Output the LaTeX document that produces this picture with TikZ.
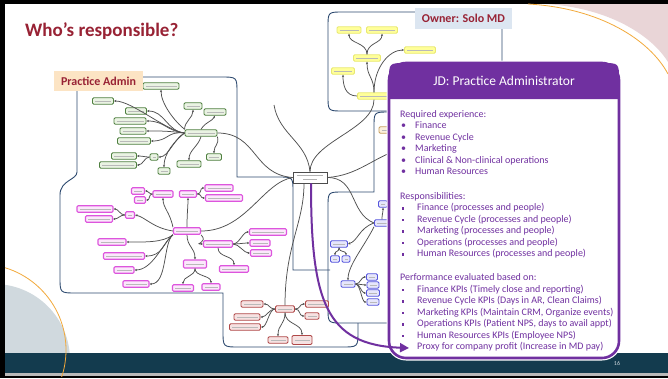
\documentclass[tikz,border=0pt]{standalone}
\usepackage{fontspec}
\setmainfont{Carlito}
\usetikzlibrary{arrows.meta}
\definecolor{titlered}{HTML}{982234}
\definecolor{peach}{HTML}{FCE4C4}
\definecolor{ownerbg}{HTML}{DCE6F1}
\definecolor{tealbar}{HTML}{133B4E}
\definecolor{jdpurple}{HTML}{7030A0}
\definecolor{pinkbg}{HTML}{E9D5D7}
\definecolor{orangeln}{HTML}{F2A93B}
\definecolor{greyc}{HTML}{D0D9DE}
\definecolor{navy}{HTML}{2E4A70}
\definecolor{linkgray}{HTML}{505050}
\definecolor{gbd}{HTML}{4F8040}\definecolor{gfl}{HTML}{EAF3E3}
\definecolor{pbd}{HTML}{DD55DD}\definecolor{pfl}{HTML}{FBE8FB}
\definecolor{rbd}{HTML}{B04848}\definecolor{rfl}{HTML}{F6E2E2}
\definecolor{bbd}{HTML}{5555DD}\definecolor{bfl}{HTML}{E6E6FB}
\definecolor{ybd}{HTML}{E8E870}\definecolor{yfl}{HTML}{FFFF99}
\definecolor{tbd}{HTML}{C8A060}\definecolor{tfl}{HTML}{FBF0DC}
\begin{document}
\begin{tikzpicture}[x=1pt,y=-1pt,
  mm/.style={draw, rounded corners=1.2pt, inner sep=0pt, minimum height=6.5, line width=0.9pt,
    path picture={\draw[gray!55, line width=0.6pt] ([xshift=2.5pt]path picture bounding box.west) -- ([xshift=-2.5pt]path picture bounding box.east);}},
  gn/.style={mm, draw=gbd, fill=gfl},
  pn/.style={mm, draw=pbd, fill=pfl, line width=1.1pt},
  rn/.style={mm, draw=rbd, fill=rfl},
  bn/.style={mm, draw=bbd, fill=bfl},
  yn/.style={mm, draw=ybd, fill=yfl},
  tn/.style={mm, draw=tbd, fill=tfl},
  cn/.style={draw=gray!60!black, fill=white, inner sep=0pt, minimum width=34, minimum height=11, line width=0.7pt,
    path picture={\draw[gray!60, line width=0.6pt] ([xshift=4pt,yshift=1.8pt]path picture bounding box.west) -- ([xshift=-4pt,yshift=1.8pt]path picture bounding box.east);
      \draw[gray!60, line width=0.6pt] ([xshift=10pt,yshift=-1.8pt]path picture bounding box.west) -- ([xshift=-10pt,yshift=-1.8pt]path picture bounding box.east);}},
  lk/.style={draw=linkgray, line width=0.75pt, -{Stealth[length=2.4pt,width=2.2pt]}},
  lkp/.style={draw=linkgray, line width=0.75pt},
  region/.style={draw=navy, line width=0.9pt},
  lbl/.style={inner sep=0pt, font=\fontsize{12}{14}\selectfont\bfseries, text=titlered},
  jd/.style={anchor=west, inner sep=0pt, font=\fontsize{10}{11}\selectfont, text=jdpurple, text height=6.5pt, text depth=2pt},
]
\useasboundingbox (0,0) rectangle (668,378);
% frame and background
\fill[black] (0,0) rectangle (668,378);
\fill[white] (5,4) rectangle (668,376);
\fill[pinkbg] (546,4) .. controls (610,8) and (652,36) .. (668,62) -- (668,4) -- cycle;
\draw[orangeln, line width=0.8pt] (528,4) .. controls (600,8) and (650,40) .. (668,74);
\begin{scope}
  \clip (5,4) rectangle (668,353);
  \fill[greyc] (-6,360) circle[radius=76pt];
\end{scope}
\fill[tealbar] (5,353) rectangle (668,373);
\fill[gray!55] (5,373) rectangle (668,376);
\begin{scope}
  \clip (5,4) rectangle (668,376);
  \draw[orangeln, line width=0.8pt] (-20,350) circle[radius=86pt];
\end{scope}

% title
\node[anchor=west, inner sep=0pt, font=\fontsize{19}{21}\selectfont\bfseries, text=titlered] (title) at (25,31) {Who’s responsible?};

% region outlines
\draw[region] (330,270) -- (293,270) -- (293,192) .. controls (293,177) .. (278,177) -- (237,177)
  -- (237,93) .. controls (237,77) .. (221,77) -- (93,77) .. controls (77,77) .. (77,93) -- (77,172)
  .. controls (77,180) and (60,180) .. (60,195) -- (60,277) .. controls (60,293) .. (76,293) -- (223,293)
  -- (223,331) .. controls (223,347) .. (239,347) -- (342,347) .. controls (358,347) .. (358,331) -- (358,323);
\draw[region] (400,323) -- (343,323) .. controls (328,323) .. (328,308) -- (328,207) .. controls (328,192) .. (343,192)
  -- (374,192) -- (374,127) .. controls (374,112) .. (389,112) -- (400,112);
\draw[region] (502,62) -- (502,27) .. controls (502,12) .. (487,12) -- (343,12) .. controls (328,12) .. (328,27)
  -- (328,96) .. controls (328,111) .. (343,111) -- (395,111);

% central node
\node[cn] (ctr) at (310,177.5) {};
\coordinate (tl) at (274,105);
\coordinate (tr) at (398,150);

% green cluster
\node[gn, minimum width=32] (g0) at (201,133) {};
\node[gn, minimum width=36] (g1) at (161,86) {};
\node[gn, minimum width=21] (g2) at (103,101) {};
\node[gn, minimum width=21] (g3) at (136,111) {};
\node[gn, minimum width=32] (g4) at (130,121) {};
\node[gn, minimum width=26] (g5) at (133,131) {};
\node[gn, minimum width=33] (g6) at (134,141) {};
\node[gn, minimum width=25] (g7) at (124,156) {};
\node[gn, minimum width=37] (g8) at (118,165) {};
\node[gn, minimum width=8] (g9) at (154,157) {};
\node[gn, minimum width=12] (g10) at (164,171) {};
\node[gn, minimum width=24] (g11) at (189,164) {};
\node[gn, minimum width=15] (g12) at (214,157) {};
\node[gn, minimum width=18] (g13) at (193,106) {};
\node[gn, minimum width=22] (g14) at (215,112) {};
\draw[lk] (g0.north west) .. controls +(-10,-8) and +(0,14) .. (g1.south);
\foreach \n in {g2,g3,g4,g5,g6}{\draw[lk] (g0.west) .. controls +(-18,-2) and +(18,0) .. (\n.east);}
\draw[lk] (g0.west) .. controls +(-10,5) and +(10,0) .. (g9.east);
\draw[lk] (g9.west) .. controls +(-5,0) and +(6,0) .. (g7.east);
\draw[lk] (g9.west) .. controls +(-5,0) and +(6,0) .. (g8.east);
\draw[lk] (g0.west) .. controls +(-10,8) and +(0,-14) .. (g10.north);
\draw[lk] (g0.south) .. controls +(-3,10) and +(0,-10) .. (g11.north);
\draw[lk] (g0.south east) .. controls +(2,8) and +(0,-8) .. (g12.north);
\draw[lk] (g0.north west) .. controls +(0,-8) and +(0,8) .. (g13.south);
\draw[lk] (g0.north) .. controls +(5,-8) and +(-3,6) .. (g14.south);
\draw[lkp] (g0.east) .. controls +(40,0) and +(-40,-3) .. (ctr.west);

% pink cluster
\node[pn, minimum width=27] (p0) at (187,231) {};
\node[pn, minimum width=9] (p1) at (130,215) {};
\node[pn, minimum width=36] (p2) at (95,209) {};
\node[pn, minimum width=27] (p3) at (99,219) {};
\node[pn, minimum width=20] (p4) at (163,194) {};
\node[pn, minimum width=13] (p5) at (138,191) {};
\node[pn, minimum width=11] (p6) at (140,200) {};
\node[pn, minimum width=17] (p7) at (188,194) {};
\node[pn, minimum width=28] (p8) at (219,188) {};
\node[pn, minimum width=37] (p9) at (224,198) {};
\node[pn, minimum width=28] (p10) at (112,242) {};
\node[pn, minimum width=41] (p11) at (124,256) {};
\node[pn, minimum width=20] (p12) at (124,270) {};
\node[pn, minimum width=26] (p13) at (136,284) {};
\node[pn, minimum width=23, minimum height=8] (p14) at (195,264) {};
\node[pn, minimum width=21] (p15) at (183,288) {};
\node[pn, minimum width=18] (p16) at (211,287) {};
\node[pn, minimum width=29] (p17) at (218,244) {};
\node[pn, minimum width=37] (p18) at (268,232) {};
\node[pn, minimum width=20] (p19) at (260,243) {};
\node[pn, minimum width=21] (p20) at (261,253) {};
\node[pn, minimum width=29] (p21) at (234,269) {};
\draw[lk] (p0.west) .. controls +(-20,-3) and +(10,2) .. (p1.east);
\draw[lk] (p1.west) .. controls +(-5,0) and +(5,0) .. (p2.east);
\draw[lk] (p1.west) .. controls +(-5,0) and +(5,0) .. (p3.east);
\draw[lk] (p0.north west) .. controls +(-3,-15) and +(0,10) .. (p4.south);
\draw[lk] (p4.west) .. controls +(-4,0) and +(4,0) .. (p5.east);
\draw[lk] (p4.west) .. controls +(-4,0) and +(4,0) .. (p6.east);
\draw[lk] (p0.north) .. controls +(0,-15) and +(0,10) .. (p7.south);
\draw[lk] (p7.east) .. controls +(5,0) and +(-5,0) .. (p8.west);
\draw[lk] (p7.east) .. controls +(5,0) and +(-5,0) .. (p9.west);
\foreach \n in {p10,p11,p12,p13}{\draw[lk] (p0.south west) .. controls +(-10,8) and +(18,0) .. (\n.east);}
\draw[lk] (p0.south) .. controls +(0,12) and +(0,-12) .. (p14.north);
\draw[lk] (p14.south) .. controls +(0,8) and +(0,-8) .. (p15.north);
\draw[lk] (p14.south) .. controls +(0,8) and +(0,-8) .. (p16.north);
\draw[lk] (p0.south east) .. controls +(8,8) and +(-10,0) .. (p17.west);
\foreach \n in {p18,p19,p20}{\draw[lk] (p17.east) .. controls +(6,0) and +(-6,0) .. (\n.west);}
\draw[lk] (p17.south) .. controls +(0,10) and +(0,-10) .. (p21.north);
\draw[lkp] (p0.east) .. controls +(45,0) and +(-30,5) .. (ctr.west);

% red cluster
\node[rn, minimum width=19] (r0) at (285,309) {};
\node[rn, minimum width=22] (r1) at (252,304) {};
\node[rn, minimum width=26] (r2) at (247,317) {};
\node[rn, minimum width=31] (r3) at (245,327) {};
\node[rn, minimum width=20] (r4) at (278,340) {};
\node[rn, minimum width=20, minimum height=9] (r5) at (302,340) {};
\node[rn, minimum width=23] (r6) at (317,304) {};
\node[rn, minimum width=14] (r7) at (312,316) {};
\foreach \n in {r1,r2,r3}{\draw[lk] (r0.west) .. controls +(-6,0) and +(6,0) .. (\n.east);}
\foreach \n in {r4,r5}{\draw[lk] (r0.south) .. controls +(0,12) and +(0,-12) .. (\n.north);}
\foreach \n in {r6,r7}{\draw[lk] (r0.east) .. controls +(6,0) and +(-6,0) .. (\n.west);}
\draw[lkp] (r0.north) .. controls +(0,-60) and +(0,40) .. ([xshift=-6pt]ctr.south);

% blue cluster
\node[bn, minimum width=15] (b0) at (382,223) {};
\node[bn, minimum width=9] (b1) at (383,204) {};
\node[bn, minimum width=17] (b2) at (339,244) {};
\node[bn, minimum width=9] (b3) at (335,259) {};
\node[bn, minimum width=8] (b4) at (346,259) {};
\node[bn, minimum width=14] (b5) at (348,284) {};
\node[bn, minimum width=11] (b6) at (372,277) {};
\node[bn, minimum width=12] (b7) at (373,285) {};
\node[bn, minimum width=13] (b8) at (373,293) {};
\node[bn, minimum width=12] (b9) at (373,302) {};
\draw[lkp] (ctr.east) .. controls +(30,0) and +(-25,-10) .. (b0.west);
\draw[lk] (b0.north) .. controls +(0,-6) and +(0,6) .. (b1.south);
\draw[lk] (b0.west) .. controls +(-15,5) and +(10,-3) .. (b2.east);
\draw[lk] (b2.south) .. controls +(0,5) and +(0,-5) .. (b3.north);
\draw[lk] (b2.south) .. controls +(0,5) and +(0,-5) .. (b4.north);
\draw[lk] (b0.south west) .. controls +(-10,20) and +(0,-15) .. (b5.north);
\foreach \n in {b6,b7,b8,b9}{\draw[lk] (b5.east) .. controls +(5,0) and +(-5,0) .. (\n.west);}
\node[tn, minimum width=14] (t1) at (386,130) {};
\draw[lkp] (ctr.east) .. controls +(30,-2) and +(-25,8) .. (tr);

% yellow cluster
\node[yn, minimum width=24] (y1) at (349,30) {};
\node[yn, minimum width=31] (y2) at (382,30) {};
\node[yn, minimum width=27] (y3) at (367,58) {};
\node[yn, minimum width=31] (y4) at (420,50) {};
\node[yn, minimum width=23] (y5) at (343,71) {};
\node[yn, minimum width=33] (y6) at (374,96) {};
\draw[lk] (y3.north) .. controls +(0,-12) and +(0,10) .. (y1.south);
\draw[lk] (y3.north) .. controls +(0,-12) and +(0,10) .. (y2.south);
\draw[lk] (y6.north) .. controls +(0,-15) and +(0,15) .. (y3.south);
\draw[lk] (y6.north) .. controls +(0,-25) and +(-15,0) .. (y4.west);
\draw[lk] (y6.west) .. controls +(-12,0) and +(0,10) .. (y5.south);
\draw[lkp] (y6.south) .. controls +(0,30) and +(0,-30) .. (ctr.north);
\draw[lkp] (tl) .. controls +(5,30) and +(-3,-30) .. (ctr.north);

% labels
\node[lbl, fill=peach, minimum width=89, minimum height=20] (pa) at (98.5,81) {Practice Admin};
\node[lbl, fill=ownerbg, minimum width=97, minimum height=21] (own) at (463.5,18.5) {Owner: Solo MD};

% JD box
\draw[white, line width=5pt, rounded corners=17] (389,63) rectangle (619,358);
\fill[white, rounded corners=17] (389,63) rectangle (619,358);
\fill[jdpurple] (389,99) -- (389,80) .. controls (389,63) .. (406,63) -- (602,63) .. controls (619,63) .. (619,80) -- (619,99) -- cycle;
\draw[jdpurple, line width=2.6pt, rounded corners=17] (389,63) rectangle (619,358);
\node[inner sep=0pt, font=\fontsize{13.5}{15}\selectfont, text=white] (jdh) at (504,81) {JD: Practice Administrator};

% purple arrow
\coordinate (arrend) at (409,348);
\draw[jdpurple, line width=2pt, -{Triangle[length=9pt,width=9pt]}] ([xshift=1pt]ctr.south) .. controls (311,300) and (325,345) .. (arrend);

\node[jd] (h1) at (400,115) {Required experience:};
\foreach \t [count=\i] in {Finance, Revenue Cycle, Marketing, Clinical \& Non-clinical operations, Human Resources}{
  \node[jd] (a\i) at (415,126.5+11.5*\i-11.5) {\t};
  \node[jd] (ab\i) at (401,126.5+11.5*\i-11.5) {•};
}
\node[jd] (h2) at (400,197) {Responsibilities:};
\foreach \t [count=\i] in {Finance (processes and people), Revenue Cycle (processes and people), Marketing (processes and people), Operations (processes and people), Human Resources (processes and people)}{
  \node[jd] (b\i x) at (417,208.5+11.5*\i-11.5) {\t};
  \fill[jdpurple] (401.5,207.4+11.5*\i-11.5) rectangle +(2.4,2.4);
}
\node[jd] (h3) at (400,278.5) {Performance evaluated based on:};
\foreach \t [count=\i] in {{Finance KPIs (Timely close and reporting)}, {Revenue Cycle KPIs (Days in AR, Clean Claims)}, {Marketing KPIs (Maintain CRM, Organize events)}, {Operations KPIs (Patient NPS, days to avail appt)}, {Human Resources KPIs (Employee NPS)}}{
  \node[jd] (c\i) at (417,290+11.5*\i-11.5) {\t};
  \fill[jdpurple] (401.5,288.9+11.5*\i-11.5) rectangle +(2.4,2.4);
}
\node[jd] (c6) at (417,347.5) {Proxy for company profit (Increase in MD pay)};

\node[inner sep=0pt, font=\fontsize{6}{7}\selectfont, text=greyc] (pg) at (617,363) {16};
\end{tikzpicture}
\end{document}
